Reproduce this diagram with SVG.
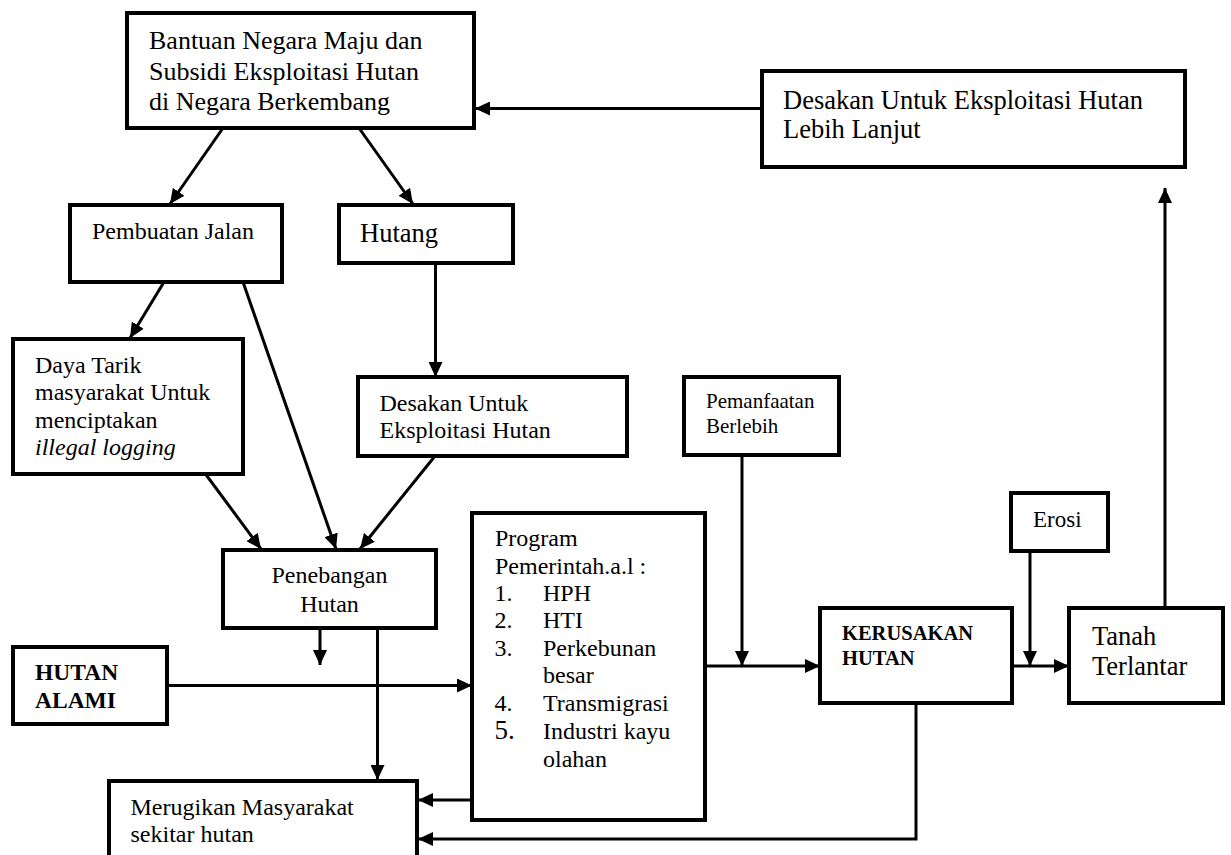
<svg xmlns="http://www.w3.org/2000/svg" width="1231" height="855" viewBox="0 0 1231 855">
<style>
.box{fill:#fff;stroke:#000;stroke-width:4}
.ln{fill:none;stroke:#000;stroke-width:3}
text{font-family:"Liberation Serif","Times New Roman",serif;fill:#000}
.b{font-weight:bold}
</style>
<defs>
<marker id="ah" markerUnits="userSpaceOnUse" markerWidth="15" markerHeight="14" refX="15" refY="7" orient="auto">
<path d="M0,0 L15,7 L0,14 z" fill="#000"/>
</marker>
</defs>
<rect width="1231" height="855" fill="#fff"/>
<g id="connectors">
<line class="ln" x1="762" y1="108.5" x2="475" y2="108.5" marker-end="url(#ah)"/>
<line class="ln" x1="223" y1="128" x2="170" y2="204" marker-end="url(#ah)"/>
<line class="ln" x1="359" y1="128" x2="413" y2="204" marker-end="url(#ah)"/>
<line class="ln" x1="164" y1="282" x2="130" y2="338" marker-end="url(#ah)"/>
<line class="ln" x1="243" y1="282" x2="336" y2="549" marker-end="url(#ah)"/>
<line class="ln" x1="435.5" y1="263" x2="435.5" y2="377" marker-end="url(#ah)"/>
<line class="ln" x1="205.5" y1="474" x2="261" y2="549" marker-end="url(#ah)"/>
<line class="ln" x1="435" y1="456" x2="360" y2="549" marker-end="url(#ah)"/>
<line class="ln" x1="320" y1="628" x2="320" y2="665" marker-end="url(#ah)"/>
<line class="ln" x1="377.5" y1="628" x2="377.5" y2="780" marker-end="url(#ah)"/>
<line class="ln" x1="167" y1="685.5" x2="472" y2="685.5" marker-end="url(#ah)"/>
<line class="ln" x1="472" y1="800" x2="418" y2="800" marker-end="url(#ah)"/>
<polyline class="ln" points="916,703 916,839 418,839" marker-end="url(#ah)"/>
<line class="ln" x1="742" y1="455" x2="742" y2="666" marker-end="url(#ah)"/>
<line class="ln" x1="705" y1="666" x2="820" y2="666" marker-end="url(#ah)"/>
<line class="ln" x1="1030" y1="551" x2="1030" y2="666" marker-end="url(#ah)"/>
<line class="ln" x1="1012" y1="666" x2="1069" y2="666" marker-end="url(#ah)"/>
<line class="ln" x1="1165" y1="608" x2="1165" y2="188" marker-end="url(#ah)"/>
</g>
<g id="bantuan">
<rect class="box" x="127" y="13" width="347" height="115"/>
<text font-size="26"><tspan x="149" y="49">Bantuan Negara Maju dan</tspan><tspan x="149" y="80">Subsidi Eksploitasi Hutan</tspan><tspan x="149" y="110">di Negara Berkembang</tspan></text>
</g>
<g id="desakan-lanjut">
<rect class="box" x="762" y="71" width="423" height="96"/>
<text font-size="26.5"><tspan x="783" y="109">Desakan Untuk Eksploitasi Hutan</tspan><tspan x="783" y="138">Lebih Lanjut</tspan></text>
</g>
<g id="pembuatan-jalan">
<rect class="box" x="70" y="205" width="212" height="77"/>
<text font-size="24" x="92" y="239">Pembuatan Jalan</text>
</g>
<g id="hutang">
<rect class="box" x="339" y="205" width="174" height="58"/>
<text font-size="26.5" x="360" y="242">Hutang</text>
</g>
<g id="daya-tarik">
<rect class="box" x="13" y="339" width="230" height="135"/>
<text font-size="24"><tspan x="35" y="373">Daya Tarik</tspan><tspan x="35" y="400">masyarakat Untuk</tspan><tspan x="35" y="428">menciptakan</tspan><tspan x="35" y="455" font-style="italic">illegal logging</tspan></text>
</g>
<g id="desakan">
<rect class="box" x="358" y="377" width="269" height="79"/>
<text font-size="24"><tspan x="379.5" y="411">Desakan Untuk</tspan><tspan x="379.5" y="438">Eksploitasi Hutan</tspan></text>
</g>
<g id="pemanfaatan">
<rect class="box" x="684" y="377" width="155" height="78"/>
<text font-size="21"><tspan x="706" y="408">Pemanfaatan</tspan><tspan x="706" y="433">Berlebih</tspan></text>
</g>
<g id="penebangan">
<rect class="box" x="223" y="550" width="213" height="78"/>
<text font-size="24" text-anchor="middle"><tspan x="329.5" y="583">Penebangan</tspan><tspan x="329.5" y="612">Hutan</tspan></text>
</g>
<g id="program">
<rect class="box" x="472" y="513" width="233" height="307"/>
<text font-size="24"><tspan x="495" y="546">Program</tspan><tspan x="495" y="574">Pemerintah.a.l :</tspan></text>
<text font-size="24"><tspan x="494.5" y="601">1.</tspan><tspan x="543" y="601">HPH</tspan><tspan x="494.5" y="628">2.</tspan><tspan x="543" y="628">HTI</tspan><tspan x="494.5" y="656">3.</tspan><tspan x="543" y="656">Perkebunan</tspan><tspan x="543" y="683">besar</tspan><tspan x="494.5" y="711">4.</tspan><tspan x="543" y="711">Transmigrasi</tspan><tspan x="494.5" y="739" font-size="27">5.</tspan><tspan x="543" y="739">Industri kayu</tspan><tspan x="543" y="767">olahan</tspan></text>
</g>
<g id="erosi">
<rect class="box" x="1011" y="493" width="97" height="58"/>
<text font-size="23" x="1033" y="527">Erosi</text>
</g>
<g id="kerusakan">
<rect class="box" x="820" y="608" width="192" height="95"/>
<text font-size="20.5" class="b"><tspan x="842" y="640">KERUSAKAN</tspan><tspan x="842" y="665">HUTAN</tspan></text>
</g>
<g id="tanah">
<rect class="box" x="1069" y="608" width="154" height="95"/>
<text font-size="26.5"><tspan x="1092" y="645">Tanah</tspan><tspan x="1092" y="675">Terlantar</tspan></text>
</g>
<g id="hutan-alami">
<rect class="box" x="13" y="647" width="154" height="77"/>
<text font-size="23.5" class="b"><tspan x="35" y="680">HUTAN</tspan><tspan x="35" y="708">ALAMI</tspan></text>
</g>
<g id="merugikan">
<rect class="box" x="109" y="781" width="308" height="90"/>
<text font-size="24"><tspan x="130.5" y="815">Merugikan Masyarakat</tspan><tspan x="130.5" y="842">sekitar hutan</tspan></text>
</g>
</svg>
